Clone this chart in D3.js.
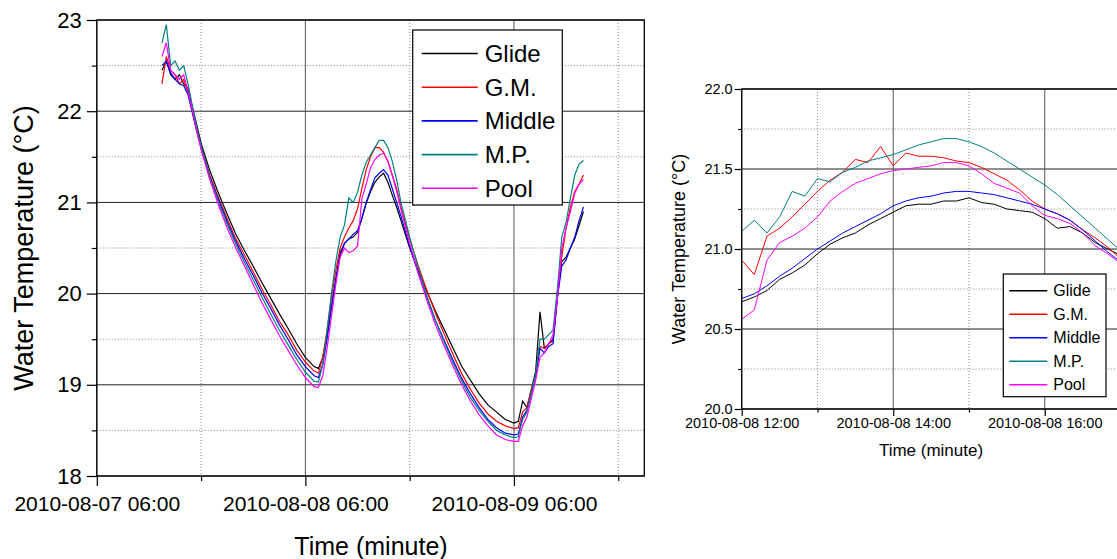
<!DOCTYPE html>
<html>
<head>
<meta charset="utf-8">
<script src="https://cdn.jsdelivr.net/npm/d3@7"></script>
<style>
  body { margin: 0; background: #fff; }
  svg { display: block; }
</style>
</head>
<body>
<svg id="chart" width="1117" height="559"></svg>
<script>
const seriesNames = ["Glide", "G.M.", "Middle", "M.P.", "Pool"];
const seriesColors = ["#000000", "#ff0000", "#0000ff", "#008080", "#ff00ff"];

// left panel: hours after 2010-08-07 06:00
const overviewHours = [7.5, 8, 8.5, 9, 9.5, 10, 10.5, 11, 11.5,
  12, 13, 14, 15, 16, 17, 18, 19, 20, 21, 22, 23, 24, 25,
  25.5, 26, 26.5, 27, 27.5, 28, 28.5, 29, 29.5, 30, 30.5, 31, 31.5, 32, 32.5, 33, 33.5, 34, 34.5, 35,
  36, 37, 38, 39, 40, 41, 42, 43, 44, 45, 46, 47, 48,
  48.5, 49, 49.5, 50, 50.5, 51, 51.5, 52, 52.5, 53, 53.5, 54, 54.5, 55, 55.5, 56];
const overviewGlide = [22.45, 22.55, 22.4, 22.35, 22.4, 22.3, 22.25, 22.05, 21.85,
  21.65, 21.35, 21.1, 20.87, 20.65, 20.47, 20.3, 20.12, 19.95, 19.78, 19.62, 19.45, 19.3, 19.2,
  19.18, 19.3, 19.55, 19.85, 20.15, 20.45, 20.55, 20.6, 20.62, 20.67, 20.82, 20.99, 21.12, 21.22, 21.28, 21.32, 21.22, 21.08, 20.95, 20.8,
  20.5, 20.25, 20.02, 19.8, 19.6, 19.4, 19.2, 19.05, 18.9, 18.78, 18.7, 18.62, 18.58,
  18.6, 18.82, 18.75, 18.95, 19.15, 19.8, 19.4, 19.45, 19.5, 20.0, 20.35, 20.4, 20.5, 20.6, 20.75, 20.9];
const overviewGM = [22.3, 22.6, 22.45, 22.4, 22.3, 22.35, 22.2, 22.0, 21.8,
  21.6, 21.3, 21.05, 20.82, 20.6, 20.42, 20.24, 20.05, 19.88, 19.7, 19.55, 19.38, 19.25, 19.15,
  19.13, 19.3, 19.6, 19.95, 20.25, 20.5, 20.62, 20.72, 20.8, 20.93, 21.15, 21.36, 21.5, 21.6, 21.6, 21.55, 21.45, 21.3, 21.15, 20.95,
  20.6, 20.3, 20.03, 19.78, 19.55, 19.33, 19.12, 18.95, 18.8, 18.68, 18.6, 18.55, 18.52,
  18.53, 18.7, 18.75, 18.95, 19.1, 19.42, 19.4, 19.45, 19.48, 19.95, 20.4, 20.72, 20.95, 21.12, 21.2, 21.3];
const overviewMiddle = [22.5, 22.55, 22.42, 22.35, 22.3, 22.28, 22.18, 21.98, 21.78,
  21.6, 21.28, 21.03, 20.79, 20.57, 20.38, 20.2, 20.01, 19.84, 19.66, 19.5, 19.33, 19.2, 19.1,
  19.08, 19.22, 19.5, 19.85, 20.15, 20.42, 20.55, 20.6, 20.65, 20.69, 20.83, 21.0, 21.14, 21.27, 21.32, 21.36, 21.3, 21.15, 21.0, 20.85,
  20.52, 20.22, 19.95, 19.7, 19.48, 19.27, 19.07, 18.9, 18.75, 18.62, 18.53, 18.47, 18.45,
  18.46, 18.65, 18.72, 18.9, 19.1, 19.4, 19.35, 19.42, 19.45, 19.95, 20.3, 20.37, 20.5, 20.62, 20.8, 20.95];
const overviewMP = [22.75, 22.95, 22.5, 22.55, 22.45, 22.5, 22.3, 22.05, 21.82,
  21.62, 21.28, 21.0, 20.76, 20.54, 20.34, 20.15, 19.96, 19.78, 19.6, 19.44, 19.28, 19.14, 19.04,
  19.03, 19.22, 19.6, 20.0, 20.35, 20.62, 20.75, 21.05, 21.0, 21.11, 21.3, 21.44, 21.52, 21.6, 21.68, 21.68, 21.6, 21.45, 21.25, 21.0,
  20.62, 20.28, 19.97, 19.7, 19.46, 19.24, 19.04, 18.86, 18.72, 18.6, 18.5, 18.45, 18.42,
  18.43, 18.62, 18.7, 18.92, 19.12, 19.5, 19.5, 19.55, 19.6, 20.05, 20.62, 20.78, 21.05, 21.3, 21.42, 21.46];
const overviewPool = [22.6, 22.75, 22.45, 22.4, 22.35, 22.4, 22.22, 22.0, 21.78,
  21.58, 21.25, 20.97, 20.72, 20.5, 20.3, 20.1, 19.9, 19.72, 19.54, 19.38, 19.22, 19.08, 18.98,
  18.97, 19.1, 19.4, 19.75, 20.1, 20.4, 20.5, 20.45, 20.47, 20.52, 21.04, 21.2, 21.38, 21.47, 21.52, 21.54, 21.45, 21.3, 21.12, 20.92,
  20.55, 20.22, 19.92, 19.65, 19.42, 19.2, 19.0, 18.82, 18.67, 18.55, 18.45, 18.4, 18.38,
  18.38, 18.55, 18.65, 18.85, 19.05, 19.3, 19.35, 19.45, 19.55, 19.95, 20.5, 20.72, 20.9, 21.1, 21.2, 21.25];

// right panel: minutes after 2010-08-08 12:00
const zoomMinutes = [0, 10, 20, 30, 40, 50, 60, 70, 80, 90, 100, 110, 120, 130, 140, 150,
  160, 170, 180, 190, 200, 210, 220, 230, 240, 250, 260, 270, 280, 290, 300];
const zoomGlide = [20.67, 20.7, 20.74, 20.81, 20.85, 20.9, 20.97, 21.03, 21.07, 21.1, 21.15, 21.19, 21.23, 21.27, 21.28, 21.28,
  21.3, 21.3, 21.32, 21.29, 21.28, 21.25, 21.24, 21.23, 21.19, 21.13, 21.14, 21.1, 21.04, 21.0, 20.96];
const zoomGM = [20.93, 20.84, 21.08, 21.13, 21.2, 21.28, 21.36, 21.43, 21.48, 21.56, 21.54, 21.64, 21.52, 21.6, 21.58, 21.58,
  21.57, 21.55, 21.54, 21.51, 21.47, 21.43, 21.37, 21.3, 21.25, 21.22, 21.18, 21.12, 21.07, 21.01, 20.94];
const zoomMiddle = [20.69, 20.72, 20.77, 20.83, 20.88, 20.94, 21.0, 21.05, 21.1, 21.14, 21.18, 21.22, 21.27, 21.3, 21.32, 21.33,
  21.35, 21.36, 21.36, 21.35, 21.34, 21.32, 21.3, 21.28, 21.25, 21.22, 21.18, 21.12, 21.05, 20.98, 20.92];
const zoomMP = [21.11, 21.18, 21.1, 21.2, 21.36, 21.33, 21.44, 21.42, 21.48, 21.51, 21.55, 21.57, 21.59, 21.62, 21.65, 21.67,
  21.69, 21.69, 21.67, 21.64, 21.6, 21.55, 21.5, 21.45, 21.4, 21.34, 21.27, 21.2, 21.13, 21.06, 20.99];
const zoomPool = [20.56, 20.62, 20.93, 21.04, 21.08, 21.13, 21.2, 21.3, 21.36, 21.41, 21.44, 21.47, 21.49, 21.5, 21.51, 21.52,
  21.54, 21.54, 21.52, 21.47, 21.41, 21.38, 21.35, 21.27, 21.21, 21.19, 21.16, 21.1, 21.02, 20.97, 20.91];

const overviewYTicks = [18, 19, 20, 21, 22, 23];
const zoomYTicks = [20.0, 20.5, 21.0, 21.5, 22.0];

const FONT = "'Liberation Sans', Arial, sans-serif";
const svg = d3.select("#chart").attr("font-family", FONT);
const fmtTime = d3.timeFormat("%Y-%m-%d %H:%M");

function drawPanel(o) {
  const x = d3.scaleTime().domain(o.xDomain).range([o.left, o.right]);
  const y = d3.scaleLinear().domain(o.yDomain).range([o.bottom, o.top]);
  const g = svg.append("g");

  svg.append("clipPath").attr("id", o.id + "-clip")
    .append("rect")
    .attr("x", o.left).attr("y", o.top)
    .attr("width", o.right - o.left).attr("height", o.bottom - o.top);

  // grid
  const grid = g.append("g");
  grid.selectAll(".ymin").data(o.yMinor).join("line")
    .attr("x1", o.left).attr("x2", o.right)
    .attr("y1", d => y(d)).attr("y2", d => y(d))
    .attr("stroke", "#888").attr("stroke-dasharray", "1,2");
  grid.selectAll(".xmin").data(o.xMinor).join("line")
    .attr("y1", o.top).attr("y2", o.bottom)
    .attr("x1", d => x(d)).attr("x2", d => x(d))
    .attr("stroke", "#888").attr("stroke-dasharray", "1,2");
  grid.selectAll(".ymaj").data(o.yTicks).join("line")
    .attr("x1", o.left).attr("x2", o.right)
    .attr("y1", d => y(d)).attr("y2", d => y(d))
    .attr("stroke", "#222");
  grid.selectAll(".xmaj").data(o.xTicks).join("line")
    .attr("y1", o.top).attr("y2", o.bottom)
    .attr("x1", d => x(d)).attr("x2", d => x(d))
    .attr("stroke", "#555");

  // series
  const line = d3.line().x(d => x(d.t)).y(d => y(d.v));
  g.append("g").attr("clip-path", `url(#${o.id}-clip)`)
    .selectAll("path").data(o.series).join("path")
    .attr("d", s => line(s.values))
    .attr("fill", "none")
    .attr("stroke", s => s.color)
    .attr("stroke-width", o.lineWidth);

  // frame
  g.append("rect")
    .attr("x", o.left).attr("y", o.top)
    .attr("width", o.right - o.left).attr("height", o.bottom - o.top)
    .attr("fill", "none").attr("stroke", "#000").attr("stroke-width", 1.3);

  // axes
  const yAxis = g.append("g").attr("transform", `translate(${o.left},0)`)
    .call(d3.axisLeft(y).tickValues(o.yTicks).tickSize(o.tickLen).tickPadding(o.yPad).tickFormat(o.yFormat));
  const xAxis = g.append("g").attr("transform", `translate(0,${o.bottom})`)
    .call(d3.axisBottom(x).tickValues(o.xTicks).tickSize(o.tickLen).tickPadding(o.xPad).tickFormat(fmtTime));
  g.append("g").attr("transform", `translate(${o.left},0)`)
    .call(d3.axisLeft(y).tickValues(o.yMinor).tickSize(o.tickLen / 2).tickFormat(""));
  g.append("g").attr("transform", `translate(0,${o.bottom})`)
    .call(d3.axisBottom(x).tickValues(o.xMinor).tickSize(o.tickLen / 2).tickFormat(""));
  g.selectAll(".domain").remove();
  g.selectAll("g").attr("font-family", null);
  g.selectAll(".tick line").attr("stroke", "#000").attr("stroke-width", 1.2);
  yAxis.selectAll("text").attr("font-size", o.yTickFont).attr("fill", "#000");
  xAxis.selectAll("text").attr("font-size", o.xTickFont).attr("fill", "#000");

  // titles
  g.append("text")
    .attr("transform", `translate(${o.yTitleX},${(o.top + o.bottom) / 2}) rotate(-90)`)
    .attr("text-anchor", "middle").attr("font-size", o.yTitleFont)
    .text("Water Temperature (°C)");
  g.append("text")
    .attr("x", o.xTitleX).attr("y", o.xTitleY)
    .attr("text-anchor", "middle").attr("font-size", o.xTitleFont)
    .text("Time (minute)");

  // legend
  const L = o.legend;
  const lg = g.append("g");
  lg.append("rect")
    .attr("x", L.x).attr("y", L.y).attr("width", L.w).attr("height", L.h)
    .attr("fill", "#fff").attr("stroke", "#000").attr("stroke-width", 1.2);
  const rows = lg.selectAll(".row").data(o.series).join("g")
    .attr("transform", (d, i) => `translate(0,${L.y0 + i * L.step})`);
  rows.append("line")
    .attr("x1", L.x + L.lineX0).attr("x2", L.x + L.lineX1)
    .attr("stroke", d => d.color).attr("stroke-width", 1.6);
  rows.append("text")
    .attr("x", L.x + L.textX).attr("dy", "0.35em")
    .attr("font-size", L.font)
    .text(d => d.name);
}

const overviewStart = new Date(2010, 7, 7, 6, 0);
const overviewSeries = [overviewGlide, overviewGM, overviewMiddle, overviewMP, overviewPool].map((vals, i) => ({
  name: seriesNames[i], color: seriesColors[i],
  values: vals.map((v, j) => ({ t: new Date(+overviewStart + overviewHours[j] * 3600e3), v }))
}));

const zoomStart = new Date(2010, 7, 8, 12, 0);
const zoomSeries = [zoomGlide, zoomGM, zoomMiddle, zoomMP, zoomPool].map((vals, i) => ({
  name: seriesNames[i], color: seriesColors[i],
  values: vals.map((v, j) => ({ t: d3.timeMinute.offset(zoomStart, zoomMinutes[j]), v }))
}));

drawPanel({
  id: "left",
  left: 96.8, right: 644.3, top: 20, bottom: 476,
  xDomain: [overviewStart, new Date(2010, 7, 9, 21, 0)],
  yDomain: [18, 23],
  xTicks: [0, 1, 2].map(d => d3.timeHour.offset(overviewStart, 24 * d)),
  xMinor: [0, 1, 2].map(d => d3.timeHour.offset(overviewStart, 24 * d + 12)),
  yTicks: overviewYTicks,
  yMinor: [18.5, 19.5, 20.5, 21.5, 22.5],
  yFormat: d3.format("d"),
  tickLen: 10, yPad: 5, xPad: 10,
  yTickFont: "22px", xTickFont: "21px", yTitleFont: "27px", xTitleFont: "25px",
  yTitleX: 33,
  xTitleX: 371, xTitleY: 555,
  lineWidth: 1.2,
  series: overviewSeries,
  legend: { x: 412.7, y: 30, w: 149.6, h: 175, y0: 53.5, step: 33.7, lineX0: 9, lineX1: 65, textX: 72, font: "24px" }
});

drawPanel({
  id: "right",
  left: 741.7, right: 1120.5, top: 89, bottom: 409,
  xDomain: [zoomStart, new Date(2010, 7, 8, 17, 0)],
  yDomain: [20, 22],
  xTicks: [0, 2, 4].map(d => d3.timeHour.offset(zoomStart, d)),
  xMinor: [1, 3].map(d => d3.timeHour.offset(zoomStart, d)),
  yTicks: zoomYTicks,
  yMinor: [20.25, 20.75, 21.25, 21.75],
  yFormat: d3.format(".1f"),
  tickLen: 7, yPad: 2, xPad: 2,
  yTickFont: "14.5px", xTickFont: "14.5px", yTitleFont: "18px", xTitleFont: "17px",
  yTitleX: 685,
  xTitleX: 931, xTitleY: 456,
  lineWidth: 1,
  series: zoomSeries,
  legend: { x: 1003.3, y: 274, w: 102.7, h: 122.7, y0: 290.7, step: 23.5, lineX0: 6, lineX1: 44, textX: 50, font: "16px" }
});
</script>
</body>
</html>
